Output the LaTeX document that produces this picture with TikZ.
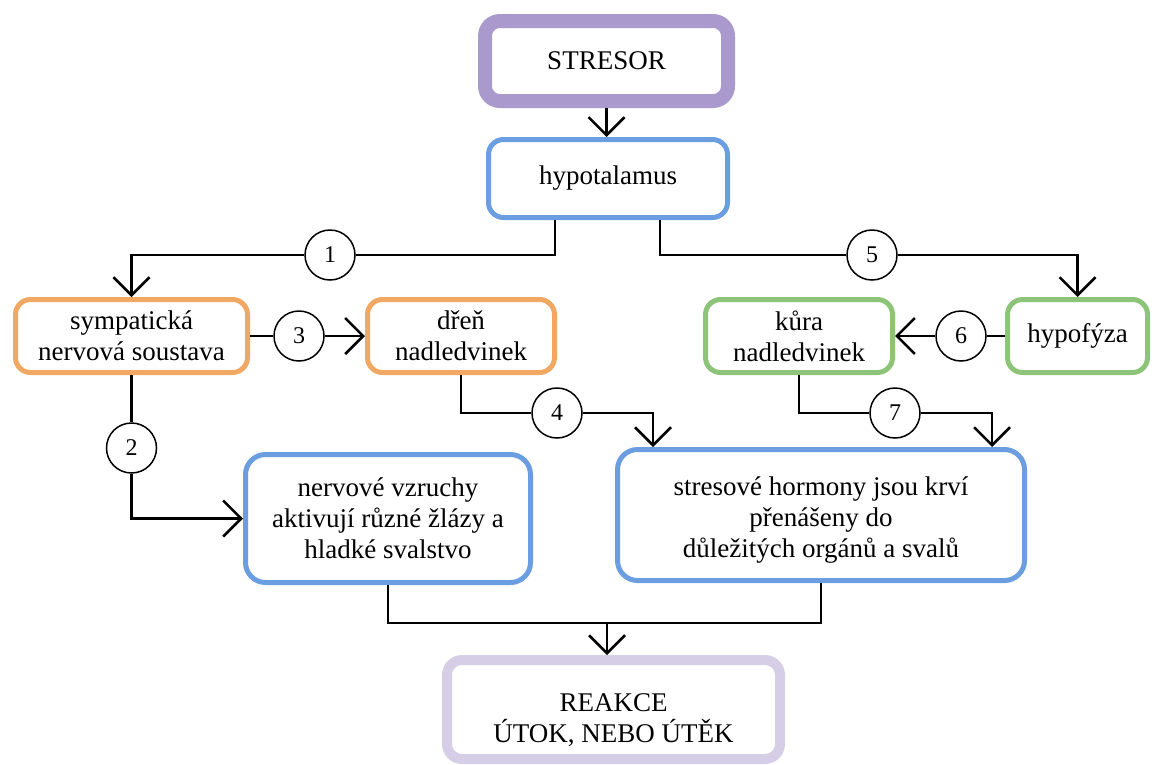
\documentclass[tikz,border=0pt]{standalone}
\usepackage{fontspec}
\setmainfont{Liberation Serif}
\usetikzlibrary{arrows.meta}
\definecolor{purpleA}{HTML}{A999CC}
\definecolor{purpleB}{HTML}{D6CEE7}
\definecolor{blueB}{HTML}{6A9EE0}
\definecolor{orangeB}{HTML}{F1A863}
\definecolor{greenB}{HTML}{8EC47A}
\begin{document}
\begin{tikzpicture}[x=1pt,y=-1pt,
  box/.style={draw, rectangle, rounded corners=15pt, line width=5pt, fill=white,
    align=center, inner sep=0pt, font=\fontsize{27}{31}\selectfont},
  num/.style={draw, circle, line width=1.5pt, minimum size=50pt, inner sep=0pt,
    fill=white, font=\fontsize{24}{28}\selectfont},
  conn/.style={line width=2.5pt, black},
  arr/.style={conn, -{Straight Barb[length=18pt,width=36pt]}}
]
\useasboundingbox (0,0) rectangle (1155,764);

% boxes
\node[box, draw=purpleA, line width=14pt, minimum width=243pt, minimum height=80pt] (stresor) at (606.5,61) {STRESOR};
\node[box, draw=blueB, minimum width=239pt, minimum height=78pt] (hyp) at (608,178.5) {hypotalamus};
\node[box, draw=orangeB, minimum width=232pt, minimum height=73pt] (symp) at (131.5,336) {sympatická\\nervová soustava};
\node[box, draw=orangeB, minimum width=187pt, minimum height=73pt] (dren) at (461,336) {dřeň\\nadledvinek};
\node[box, draw=greenB, minimum width=187pt, minimum height=73pt] (kura) at (799,336) {kůra\\nadledvinek};
\node[box, draw=greenB, minimum width=140pt, minimum height=73pt] (hypo) at (1077.5,336) {hypofýza};
\node[box, draw=blueB, rounded corners=20pt, minimum width=285pt, minimum height=128pt] (nerv) at (388,518.5) {nervové vzruchy\\aktivují různé žlázy a\\hladké svalstvo};
\node[box, draw=blueB, rounded corners=20pt, minimum width=407pt, minimum height=131pt] (stres) at (821,515) {\rule{0pt}{28pt}stresové hormony jsou krví\\přenášeny do\\důležitých orgánů a svalů};
\node[box, draw=purpleB, line width=10pt, minimum width=333pt, minimum height=99pt] (reak) at (613.5,709.5) {\rule{0pt}{40pt}REAKCE\\ÚTOK, NEBO ÚTĚK};

% numbered circles
\node[num] (n1) at (330,255) {1};
\node[num] (n5) at (872,255) {5};
\node[num] (n3) at (299,336) {3};
\node[num] (n6) at (961,336) {6};
\node[num] (n2) at (131.5,448) {2};
\node[num] (n4) at (557,413) {4};
\node[num] (n7) at (895,413) {7};

% connectors
\draw[arr] (stresor.south) -- (stresor.south |- hyp.north);
\draw[conn] ([xshift=-53pt]hyp.south) |- (n1.east);
\draw[arr] (n1.west) -| (symp.north);
\draw[conn] ([xshift=52pt]hyp.south) |- (n5.west);
\draw[arr] (n5.east) -| (hypo.north);
\draw[conn] (symp.east) -- (n3.west);
\draw[arr] (n3.east) -- (dren.west);
\draw[conn] (hypo.west) -- (n6.east);
\draw[arr] (n6.west) -- (kura.east);
\draw[conn] (symp.south) -- (n2.north);
\draw[arr] (n2.south) |- (nerv.west);
\draw[conn] (dren.south) |- (n4.west);
\draw[arr] (n4.east) -| ([xshift=-168pt]stres.north);
\draw[conn] (kura.south) |- (n7.west);
\draw[arr] (n7.east) -| ([xshift=171pt]stres.north);
\coordinate (j) at (607,623);
\draw[conn] (nerv.south) |- (j) -| (stres.south);
\draw[arr] (j) -- (j |- reak.north);
\end{tikzpicture}
\end{document}
